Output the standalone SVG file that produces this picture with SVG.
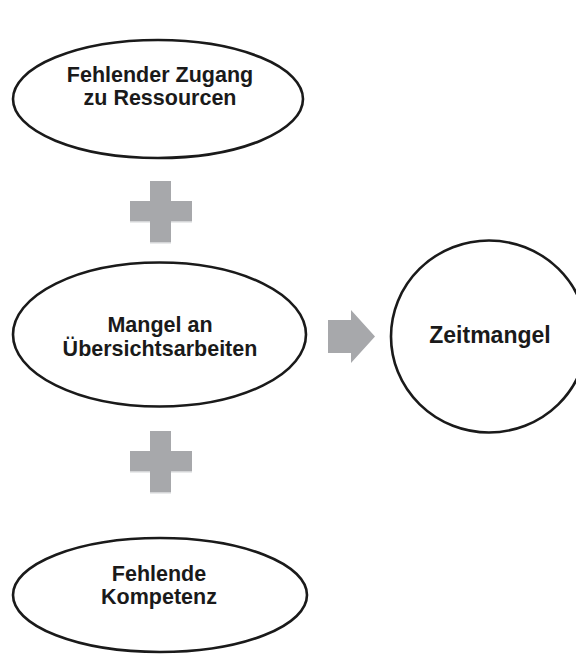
<svg xmlns="http://www.w3.org/2000/svg" width="576" height="655" viewBox="0 0 576 655">
<style>
.node{fill:#ffffff;stroke:#1a1a1a;stroke-width:2.6}
.lbl{font-family:"Liberation Sans",Arial,sans-serif;font-weight:bold;font-size:21.5px;fill:#1a1a1a;text-anchor:middle}
.big{font-size:23px}
.sym{fill:#a7a8ab}
.shadow{fill:#d4d5d7}
</style>
<rect width="576" height="655" fill="#ffffff"/>
<g id="n-zugang">
<ellipse class="node" cx="158" cy="99" rx="145" ry="59"/>
<text class="lbl" x="160" y="82">Fehlender Zugang</text>
<text class="lbl" x="160" y="105">zu Ressourcen</text>
</g>
<g id="n-mangel">
<ellipse class="node" cx="159.5" cy="334.5" rx="146.5" ry="72"/>
<text class="lbl" x="160" y="332">Mangel an</text>
<text class="lbl" x="160" y="356">Übersichtsarbeiten</text>
</g>
<g id="n-kompetenz">
<ellipse class="node" cx="160" cy="595" rx="147" ry="57"/>
<text class="lbl" x="159" y="581">Fehlende</text>
<text class="lbl" x="159" y="604">Kompetenz</text>
</g>
<g id="n-zeitmangel">
<ellipse class="node" cx="489" cy="336.5" rx="98" ry="96"/>
<text class="lbl big" x="490" y="343">Zeitmangel</text>
</g>
<g id="connectors">
<g id="plus1">
<rect class="shadow" x="130" y="221" width="62" height="1.5"/>
<rect class="shadow" x="150" y="242" width="21" height="1.5"/>
<rect class="sym" x="150" y="181" width="21" height="61"/>
<rect class="sym" x="130" y="201" width="62" height="20"/>
</g>
<g id="plus2">
<rect class="shadow" x="130" y="471" width="62" height="1.5"/>
<rect class="shadow" x="150" y="492" width="21" height="1.5"/>
<rect class="sym" x="150" y="431" width="21" height="61"/>
<rect class="sym" x="130" y="451" width="62" height="20"/>
</g>
<g id="arrow">
<path class="sym" d="M328,320 L351,320 L351,310 L375,336.5 L351,363 L351,353 L328,353 Z"/>
</g>
</g>
</svg>
